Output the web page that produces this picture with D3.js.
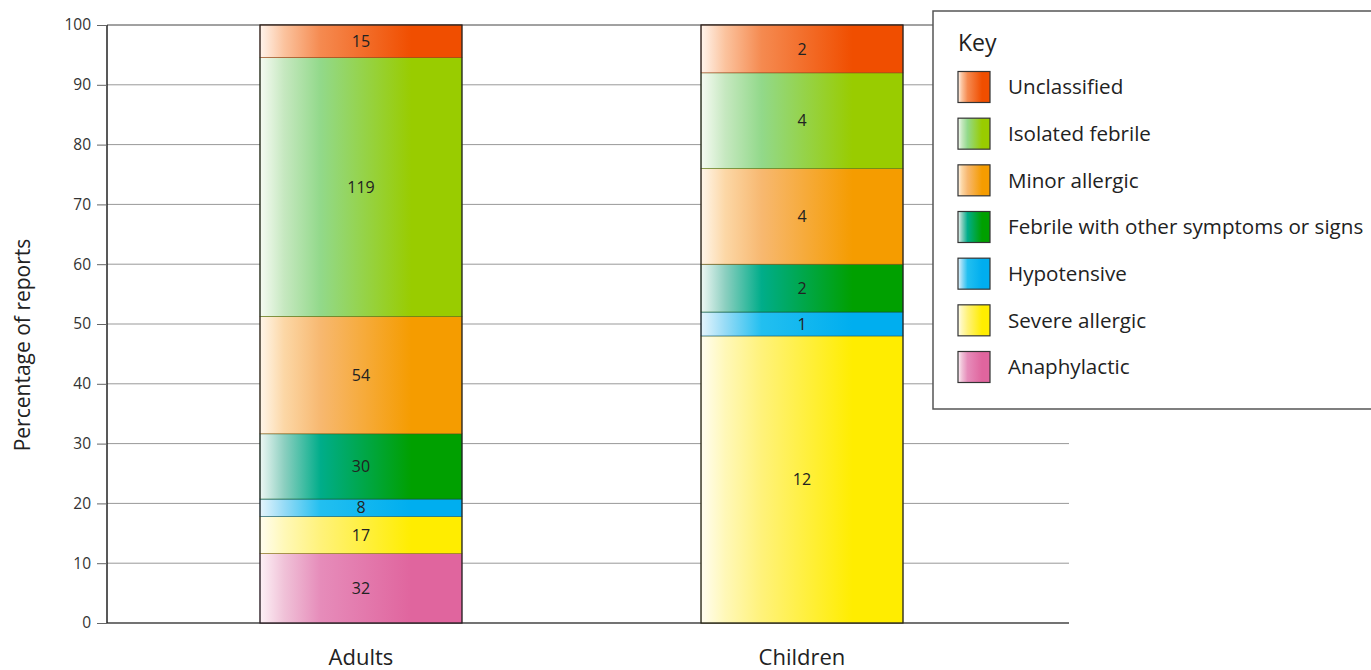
<!DOCTYPE html>
<html><head><meta charset="utf-8">
<script src="https://cdnjs.cloudflare.com/ajax/libs/d3/7.8.5/d3.min.js"></script>
<style>
html,body{margin:0;padding:0;background:#fff;}
svg{display:block;font-family:"Open Sans","Noto Sans",sans-serif;}
</style></head><body>
<svg id="chart" width="1371" height="670"></svg>
<script>
const groups = ["Adults", "Children"];
const categories = ["Anaphylactic", "Severe allergic", "Hypotensive", "Febrile with other symptoms or signs", "Minor allergic", "Isolated febrile", "Unclassified"];
const adultCounts = [32, 17, 8, 30, 54, 119, 15];
const childCounts = [0, 12, 1, 2, 4, 4, 2];
const yTicks = [0, 10, 20, 30, 40, 50, 60, 70, 80, 90, 100];
const legendOrder = ["Unclassified", "Isolated febrile", "Minor allergic", "Febrile with other symptoms or signs", "Hypotensive", "Severe allergic", "Anaphylactic"];

// gradient stops per category: [light, tint, mid, full, border]
const palette = {
  "Unclassified": ["#fff4ec", "#fbc39e", "#f58a50", "#f04e00", "#9a3a10"],
  "Isolated febrile": ["#f6fbf3", "#c6e8c0", "#92d98a", "#99cc00", "#557a10"],
  "Minor allergic": ["#fff6ea", "#fcd7a6", "#f7b870", "#f59c00", "#8a5a10"],
  "Febrile with other symptoms or signs": ["#eef7f4", "#8ccfc0", "#00ad8a", "#00a000", "#105a20"],
  "Hypotensive": ["#e6f5fd", "#96dbf6", "#22bff0", "#00aeef", "#106080"],
  "Severe allergic": ["#fffdf0", "#fff8b8", "#fff27a", "#ffed00", "#8a8010"],
  "Anaphylactic": ["#fdf1f6", "#f0c2d8", "#e68cba", "#e0659e", "#8a3a60"]
};

const svg = d3.select("#chart");
const defs = svg.append("defs");
categories.forEach((c, i) => {
  const p = palette[c];
  const g = defs.append("linearGradient").attr("id", "g" + i)
    .attr("x1", "0%").attr("x2", "100%").attr("y1", "0%").attr("y2", "0%");
  g.append("stop").attr("offset", "0%").attr("stop-color", p[0]);
  g.append("stop").attr("offset", "12%").attr("stop-color", p[1]);
  g.append("stop").attr("offset", "30%").attr("stop-color", p[2]);
  g.append("stop").attr("offset", "75%").attr("stop-color", p[3]);
  g.append("stop").attr("offset", "100%").attr("stop-color", p[3]);
});

const y = d3.scaleLinear().domain([0, 100]).range([623, 25]);
const x = d3.scaleBand().domain(groups).range([260, 903]).paddingInner(0.542).paddingOuter(0);
const plotLeft = 107, plotRight = 1069;

// gridlines
svg.append("g").selectAll("line").data(yTicks).join("line")
  .attr("x1", plotLeft).attr("x2", plotRight)
  .attr("y1", d => y(d)).attr("y2", d => y(d))
  .attr("stroke", d => d === 0 || d === 100 ? "#444" : "#999").attr("stroke-width", d => d === 0 ? 1.5 : 1);

// y axis
const yAxis = d3.axisLeft(y).tickValues(yTicks).tickSize(10).tickPadding(6);
const ya = svg.append("g").attr("transform", `translate(${plotLeft},0)`).call(yAxis);
ya.select(".domain").attr("stroke", "#222").attr("stroke-width", 1.5).attr("d", `M0,${y(0)}V${y(100)}`);
ya.selectAll(".tick line").attr("stroke", "#666");
ya.selectAll(".tick text").attr("font-size", 15.5).attr("fill", "#333")
  .attr("font-family", "'Open Sans', sans-serif");

// stacked data
const dataByGroup = { "Adults": adultCounts, "Children": childCounts };
groups.forEach(gName => {
  const counts = dataByGroup[gName];
  const total = d3.sum(counts);
  let cum = 0;
  const segs = counts.map((v, i) => {
    const s = { cat: categories[i], idx: i, v, y0: cum / total * 100, y1: (cum + v) / total * 100 };
    cum += v; return s;
  }).filter(s => s.v > 0);
  const g = svg.append("g");
  g.selectAll("rect").data(segs).join("rect")
    .attr("x", x(gName)).attr("width", x.bandwidth())
    .attr("y", d => y(d.y1)).attr("height", d => y(d.y0) - y(d.y1))
    .attr("fill", d => `url(#g${d.idx})`)
    .attr("stroke", d => palette[d.cat][4]).attr("stroke-width", 0.6);
  g.append("rect").attr("x", x(gName)).attr("width", x.bandwidth())
    .attr("y", y(100)).attr("height", y(0) - y(100))
    .attr("fill", "none").attr("stroke", "#222").attr("stroke-width", 1.2);
  g.selectAll("text").data(segs).join("text")
    .attr("x", x(gName) + x.bandwidth() / 2)
    .attr("y", d => y((d.y0 + d.y1) / 2))
    .attr("dy", "0.35em").attr("text-anchor", "middle")
    .attr("font-size", 16).attr("fill", "#222")
    .text(d => d.v);
});

// category labels
svg.append("g").selectAll("text").data(groups).join("text")
  .attr("x", d => x(d) + x.bandwidth() / 2).attr("y", 665)
  .attr("text-anchor", "middle").attr("font-size", 22).attr("fill", "#222")
  .text(d => d);

// y title
svg.append("text").attr("transform", "translate(30,345) rotate(-90)")
  .attr("text-anchor", "middle").attr("font-size", 21).attr("fill", "#222")
  .text("Percentage of reports");

// legend
const lg = svg.append("g");
lg.append("rect").attr("x", 933).attr("y", 11).attr("width", 445).attr("height", 398)
  .attr("fill", "#fff").attr("stroke", "#555").attr("stroke-width", 1.5);
lg.append("text").attr("x", 958).attr("y", 51).attr("font-size", 23).attr("fill", "#222").text("Key");
const rowY = d3.scalePoint().domain(legendOrder).range([87, 367]);
const rows = lg.selectAll("g.row").data(legendOrder).join("g").attr("class", "row")
  .attr("transform", d => `translate(958,${rowY(d)})`);
rows.append("rect").attr("x", 0).attr("y", -15.5).attr("width", 32).attr("height", 31)
  .attr("fill", d => `url(#g${categories.indexOf(d)})`)
  .attr("stroke", "#333").attr("stroke-width", 1.2);
rows.append("text").attr("x", 50).attr("dy", "0.35em").attr("font-size", 20.6).attr("fill", "#222")
  .text(d => d);
</script>
</body></html>
